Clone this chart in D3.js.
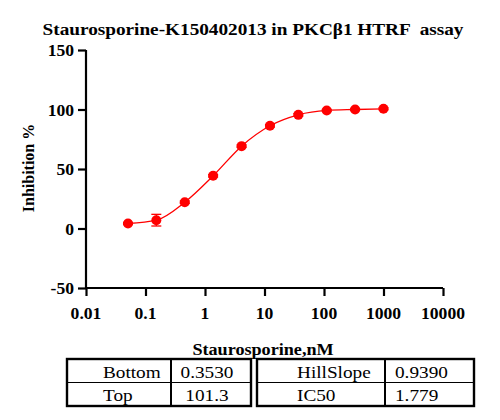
<!DOCTYPE html>
<html><head><meta charset="utf-8">
<script src="https://cdn.jsdelivr.net/npm/d3@7"></script>
<style>body{margin:0;background:#fff} text{white-space:pre}</style>
</head><body><svg id="c" width="500" height="420"></svg>
<script>
const concentrations = [0.0508, 0.152, 0.457, 1.37, 4.12, 12.35, 37.04, 111.1, 333.3, 1000];
const inhibition = [4.2, 7.0, 22.1, 44.3, 69.2, 86.3, 95.5, 99.2, 100.0, 100.6];
const errors = [0.8, 4.9, 1.0, 1.0, 1.0, 1.0, 1.0, 0.8, 0.8, 0.8];
const xTicks = [0.01, 0.1, 1, 10, 100, 1000, 10000];
const xTickLabels = ["0.01", "0.1", "1", "10", "100", "1000", "10000"];
const yTicks = [-50, 0, 50, 100, 150];
const paramNamesLeft = ["Bottom", "Top"];
const paramValuesLeft = ["0.3530", "101.3"];
const paramNamesRight = ["HillSlope", "IC50"];
const paramValuesRight = ["0.9390", "1.779"];

const svg = d3.select("#c");
const SX = 1.1;
const serif = "'Liberation Serif','Times New Roman',serif";
const red = "#ff0000";

const x = d3.scaleLog().domain([0.01, 10000]).range([86, 443]);
const y = d3.scaleLinear().domain([-50, 150]).range([288, 50]);

function txt(g, s, tx, ty, size, weight, anchor) {
  return g.append("text").attr("transform", `translate(${tx},${ty}) scale(${SX},1)`)
    .attr("font-family", serif).attr("font-size", size).attr("font-weight", weight)
    .attr("text-anchor", anchor).attr("fill", "#000").text(s);
}

// title
txt(svg, "Staurosporine-K150402013 in PKCβ1 HTRF  assay", 253, 35, 17.5, "bold", "middle");

// axes
const yAxis = svg.append("g").attr("transform", "translate(86,0)")
  .call(d3.axisLeft(y).tickValues(yTicks).tickSize(8).tickFormat(""));
const xAxis = svg.append("g").attr("transform", "translate(0,288)")
  .call(d3.axisBottom(x).tickValues(xTicks).tickSize(8).tickFormat(""));
[yAxis, xAxis].forEach(a => {
  a.select(".domain").attr("stroke", "#000").attr("stroke-width", 2.2);
  a.selectAll(".tick line").attr("stroke", "#000").attr("stroke-width", 2.2);
});
yAxis.select(".domain").attr("d", `M0,${y(150)}V${y(-50)}`);
xAxis.select(".domain").attr("d", `M${x(0.01)},0H${x(10000)}`);

yTicks.forEach(v => txt(svg, String(v), 74, y(v) + 6, 16, "bold", "end"));
xTicks.forEach((v, i) => txt(svg, xTickLabels[i], x(v), 319, 16, "bold", "middle"));

txt(svg, "Staurosporine,nM", 263, 355, 16.5, "bold", "middle");
svg.append("text").attr("transform", `translate(34,168) rotate(-90) scale(1,${SX})`)
  .attr("font-family", serif).attr("font-size", 16).attr("font-weight", "bold")
  .attr("text-anchor", "middle").text("Inhibition %");

// curve
const pts = concentrations.map((c, i) => [x(c), y(inhibition[i])]);
svg.append("path").attr("d", d3.line().curve(d3.curveMonotoneX)(pts))
  .attr("fill", "none").attr("stroke", red).attr("stroke-width", 1.3);

// error bars
const eb = svg.append("g").attr("stroke", red).attr("stroke-width", 1.3);
concentrations.forEach((c, i) => {
  const cx = x(c), y1 = y(inhibition[i] + errors[i]), y2 = y(inhibition[i] - errors[i]);
  eb.append("line").attr("x1", cx).attr("x2", cx).attr("y1", y1).attr("y2", y2);
  eb.append("line").attr("x1", cx - 5).attr("x2", cx + 5).attr("y1", y1).attr("y2", y1);
  eb.append("line").attr("x1", cx - 5).attr("x2", cx + 5).attr("y1", y2).attr("y2", y2);
});
svg.append("g").selectAll("circle").data(concentrations).join("circle")
  .attr("cx", d => x(d)).attr("cy", (d, i) => y(inhibition[i])).attr("r", 5).attr("fill", red);

// tables
function table(left, mid, right, names, vals, nameX, valX, valAnchor) {
  const top = 359, rowH = 23.5, g = svg.append("g");
  g.append("line").attr("x1", left).attr("x2", right).attr("y1", top + rowH).attr("y2", top + rowH)
    .attr("stroke", "#000").attr("stroke-width", 1.2);
  g.append("line").attr("x1", mid).attr("x2", mid).attr("y1", top).attr("y2", top + 2 * rowH)
    .attr("stroke", "#000").attr("stroke-width", 2);
  g.append("rect").attr("x", left).attr("y", top).attr("width", right - left).attr("height", 2 * rowH)
    .attr("fill", "none").attr("stroke", "#000").attr("stroke-width", 2.4);
  names.forEach((n, i) => {
    txt(g, n, nameX, top + 18.5 + i * rowH, 17.5, "normal", "start");
    txt(g, vals[i], valX, top + 18.5 + i * rowH, 17.5, "normal", valAnchor);
  });
}
table(67, 171, 251, paramNamesLeft, paramValuesLeft, 103, 207, "middle");
table(257, 385, 474, paramNamesRight, paramValuesRight, 297, 395, "start");
</script></body></html>
